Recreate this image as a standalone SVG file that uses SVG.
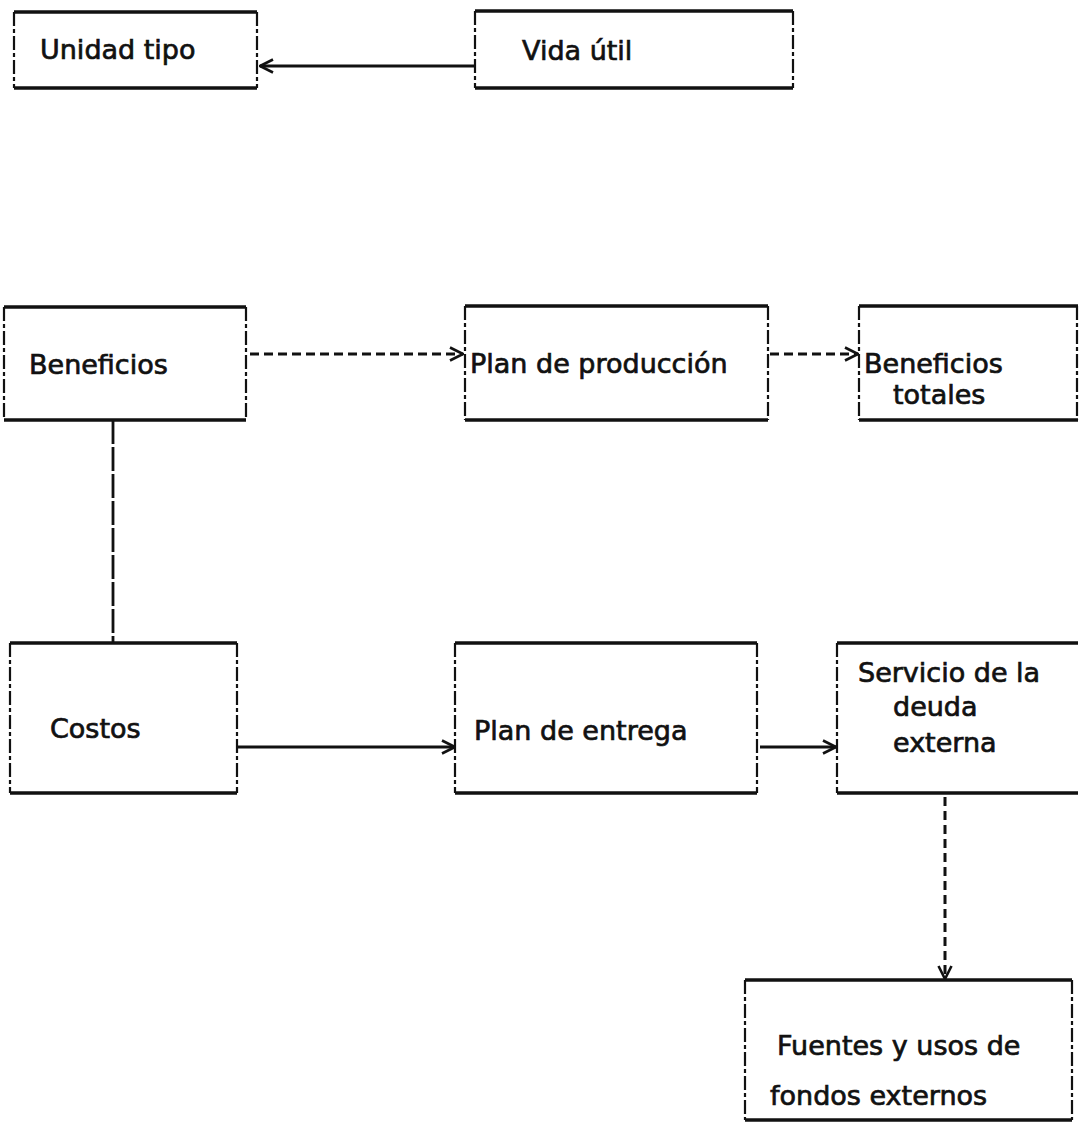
<svg xmlns="http://www.w3.org/2000/svg" width="1079" height="1129" viewBox="0 0 1079 1129">
<style>
.h{stroke:#111;stroke-width:3.5;fill:none}
.v{stroke:#111;stroke-width:2.2;fill:none;stroke-dasharray:14 3 4 3}
.t{font-family:"DejaVu Sans","Liberation Sans",sans-serif;font-size:27px;fill:#111;stroke:#111;stroke-width:0.7}
.c{stroke:#111;stroke-width:2.8;fill:none}
.d{stroke:#111;stroke-width:3;fill:none;stroke-dasharray:9 5}
</style>
<defs>
<marker id="ah" viewBox="0 0 16 16" refX="15" refY="8" markerWidth="16" markerHeight="16" markerUnits="userSpaceOnUse" orient="auto">
<path d="M2,1.5 L15,8 L2,14.5" stroke="#111" stroke-width="2.6" fill="none"/>
</marker>
</defs>
<rect width="1079" height="1129" fill="#fff"/>
<g id="connectors">
<line class="c" x1="475" y1="66" x2="260" y2="66" marker-end="url(#ah)"/>
<line class="d" x1="250" y1="354" x2="463" y2="354" marker-end="url(#ah)"/>
<line class="d" x1="770" y1="354" x2="858" y2="354" marker-end="url(#ah)"/>
<line class="c" x1="113" y1="420" x2="113" y2="643" stroke-width="2.4" stroke-dasharray="24 3"/>
<line class="c" x1="237" y1="747" x2="455" y2="747" marker-end="url(#ah)"/>
<line class="c" x1="760" y1="747" x2="836" y2="747" marker-end="url(#ah)"/>
<line class="d" x1="945" y1="797" x2="945" y2="979" marker-end="url(#ah)"/>
</g>
<g id="unidad-tipo">
<line class="h" x1="14" y1="12" x2="257" y2="12"/><line class="h" x1="14" y1="88" x2="257" y2="88"/>
<line class="v" x1="14" y1="12" x2="14" y2="88"/><line class="v" x1="257" y1="12" x2="257" y2="88"/>
<text class="t" x="40" y="59">Unidad tipo</text>
</g>
<g id="vida-util">
<line class="h" x1="475" y1="11" x2="793" y2="11"/><line class="h" x1="475" y1="88" x2="793" y2="88"/>
<line class="v" x1="475" y1="11" x2="475" y2="88"/><line class="v" x1="793" y1="11" x2="793" y2="88"/>
<text class="t" x="522" y="60">Vida útil</text>
</g>
<g id="beneficios">
<line class="h" x1="4" y1="307" x2="246" y2="307"/><line class="h" x1="4" y1="420" x2="246" y2="420"/>
<line class="v" x1="4" y1="307" x2="4" y2="420"/><line class="v" x1="246" y1="307" x2="246" y2="420"/>
<text class="t" x="29" y="374">Beneficios</text>
</g>
<g id="plan-produccion">
<line class="h" x1="465" y1="306" x2="768" y2="306"/><line class="h" x1="465" y1="420" x2="768" y2="420"/>
<line class="v" x1="465" y1="306" x2="465" y2="420"/><line class="v" x1="768" y1="306" x2="768" y2="420"/>
<text class="t" x="470" y="373">Plan de producción</text>
</g>
<g id="beneficios-totales">
<line class="h" x1="859" y1="306" x2="1078" y2="306"/><line class="h" x1="859" y1="420" x2="1078" y2="420"/>
<line class="v" x1="859" y1="306" x2="859" y2="420"/><line class="v" x1="1077" y1="306" x2="1077" y2="420"/>
<text class="t" x="864" y="373">Beneficios</text>
<text class="t" x="893" y="404">totales</text>
</g>
<g id="costos">
<line class="h" x1="10" y1="643" x2="237" y2="643"/><line class="h" x1="10" y1="793" x2="237" y2="793"/>
<line class="v" x1="10" y1="643" x2="10" y2="793"/><line class="v" x1="237" y1="643" x2="237" y2="793"/>
<text class="t" x="50" y="738">Costos</text>
</g>
<g id="plan-entrega">
<line class="h" x1="455" y1="643" x2="757" y2="643"/><line class="h" x1="455" y1="793" x2="757" y2="793"/>
<line class="v" x1="455" y1="643" x2="455" y2="793"/><line class="v" x1="757" y1="643" x2="757" y2="793"/>
<text class="t" x="474" y="740">Plan de entrega</text>
</g>
<g id="servicio-deuda">
<line class="h" x1="837" y1="643" x2="1078" y2="643"/><line class="h" x1="837" y1="793" x2="1078" y2="793"/>
<line class="v" x1="837" y1="643" x2="837" y2="793"/>
<text class="t" x="858" y="682">Servicio de la</text>
<text class="t" x="893" y="716">deuda</text>
<text class="t" x="893" y="752">externa</text>
</g>
<g id="fuentes-usos">
<line class="h" x1="745" y1="980" x2="1072" y2="980"/><line class="h" x1="745" y1="1120" x2="1072" y2="1120"/>
<line class="v" x1="745" y1="980" x2="745" y2="1120"/><line class="v" x1="1072" y1="980" x2="1072" y2="1120"/>
<text class="t" x="777" y="1055">Fuentes y usos de</text>
<text class="t" x="770" y="1105">fondos externos</text>
</g>
</svg>
